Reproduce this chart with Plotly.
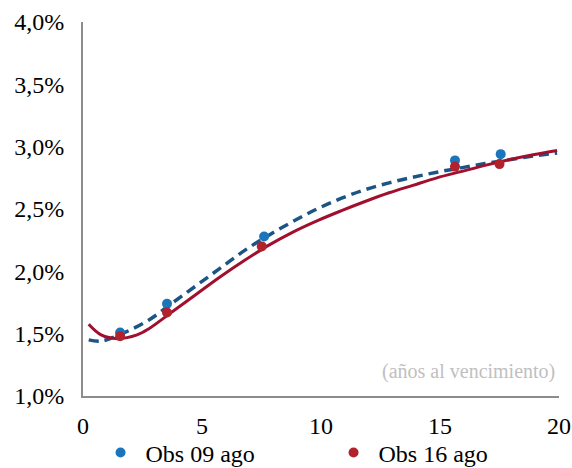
import plotly.graph_objects as go

# Observed yields (years to maturity, %)
obs09_x = [1.56, 3.53, 7.61, 15.63, 17.55]
obs09_y = [1.51, 1.74, 2.28, 2.89, 2.94]
obs16_x = [1.56, 3.53, 7.51, 15.63, 17.50]
obs16_y = [1.48, 1.67, 2.20, 2.84, 2.86]

# Fitted curve 09 ago (dashed)
fit09_x = [0.24, 0.76, 1.76, 2.77, 3.78, 4.79, 5.80, 6.81, 7.81, 8.82, 9.83, 10.84, 11.85, 12.86, 13.86, 14.87, 15.88, 16.89, 17.90, 18.91, 19.92]
fit09_y = [1.45, 1.44, 1.51, 1.61, 1.75, 1.89, 2.03, 2.17, 2.29, 2.40, 2.50, 2.585, 2.655, 2.71, 2.755, 2.795, 2.83, 2.865, 2.895, 2.925, 2.95]

# Fitted curve 16 ago (solid)
fit16_x = [0.24, 0.76, 1.46, 2.27, 2.77, 3.78, 4.79, 5.80, 6.81, 7.81, 8.82, 9.83, 10.84, 11.85, 12.86, 13.86, 14.87, 15.88, 16.89, 17.90, 18.91, 19.92]
fit16_y = [1.575, 1.49, 1.46, 1.49, 1.54, 1.68, 1.82, 1.96, 2.09, 2.21, 2.315, 2.405, 2.485, 2.56, 2.63, 2.69, 2.75, 2.80, 2.85, 2.895, 2.935, 2.97]

y_ticks = [1.0, 1.5, 2.0, 2.5, 3.0, 3.5, 4.0]
y_ticktext = ["1,0%", "1,5%", "2,0%", "2,5%", "3,0%", "3,5%", "4,0%"]
x_ticks = [0, 5, 10, 15, 20]

FONT = "Liberation Serif"

fig = go.Figure()
fig.add_trace(go.Scatter(x=fit09_x, y=fit09_y, mode="lines", line=dict(color="#1B5586", width=3.5, dash="10px,6px", shape="spline"), showlegend=False))
fig.add_trace(go.Scatter(x=fit16_x, y=fit16_y, mode="lines", line=dict(color="#A0102E", width=3, shape="spline"), showlegend=False))
fig.add_trace(go.Scatter(x=obs09_x, y=obs09_y, mode="markers", name="Obs 09 ago", marker=dict(color="#1B75BB", size=10)))
fig.add_trace(go.Scatter(x=obs16_x, y=obs16_y, mode="markers", name="Obs 16 ago", marker=dict(color="#B2222C", size=10)))

fig.add_annotation(x=20, y=1.2, xref="x", yref="y", text="(años al vencimiento)", showarrow=False, xshift=-2,
                   xanchor="right", yanchor="middle", font=dict(family=FONT, size=20, color="#BFBFBF"))

fig.update_layout(
    width=572, height=468,
    margin=dict(l=83, r=13, t=22, b=72, autoexpand=False),
    paper_bgcolor="white", plot_bgcolor="white",
    font=dict(family=FONT, size=24, color="black"),
    showlegend=True,
    legend=dict(orientation="h", x=-0.001, xanchor="left", y=-0.152, yanchor="middle", indentation=13,
                entrywidth=165, entrywidthmode="pixels", font=dict(family=FONT, size=24),
                bgcolor="rgba(0,0,0,0)", itemwidth=40),
    xaxis=dict(range=[0, 20], tickvals=x_ticks, showgrid=False, zeroline=False, showline=True, automargin=False,
               linecolor="#8C8C8C", linewidth=2, ticks="", ticklabelstandoff=7, ticklabeloverflow="allow",
               tickfont=dict(family=FONT, size=24)),
    yaxis=dict(range=[1.0, 4.0], tickvals=y_ticks, ticktext=y_ticktext, showgrid=False, zeroline=False,
               showline=True, linecolor="#8C8C8C", linewidth=2, ticks="", ticklabelstandoff=12, automargin=False,
               ticklabeloverflow="allow", tickfont=dict(family=FONT, size=24)),
)

fig.write_html("out.html", config={"displayModeBar": False},
               post_script="document.body.style.margin='0';document.body.style.overflow='hidden';")
